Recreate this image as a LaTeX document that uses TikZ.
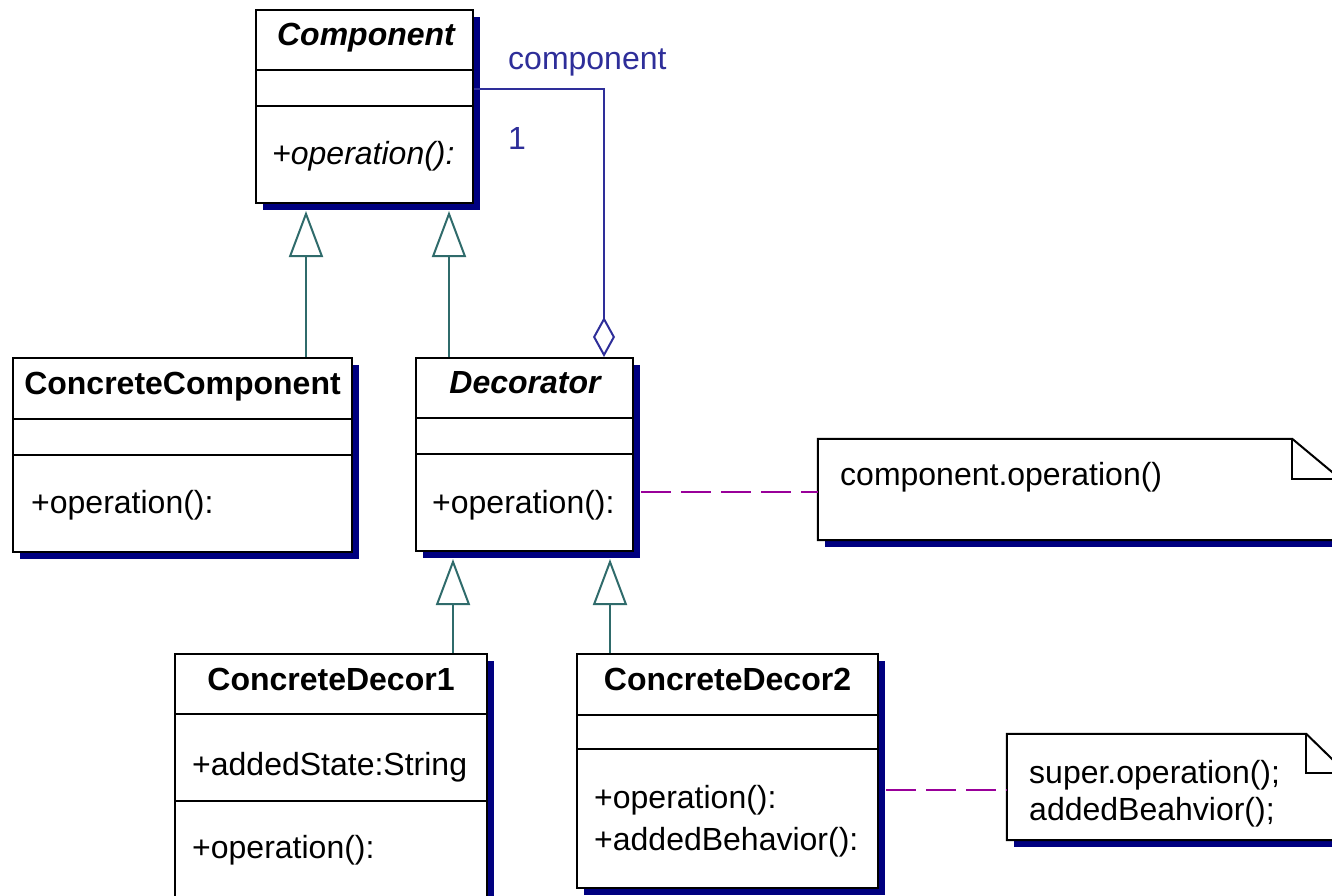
\documentclass[tikz,border=0pt]{standalone}
\usepackage{fontspec}
\setmainfont{Liberation Sans}
\usetikzlibrary{arrows.meta,shadows,calc}
\definecolor{shadowblue}{HTML}{000080}
\definecolor{assoc}{HTML}{2E2E99}
\definecolor{genline}{HTML}{2F6B6B}
\definecolor{linkpurple}{HTML}{990099}
\begin{document}
\begin{tikzpicture}[x=1pt,y=-1pt,
  every node/.style={font=\fontsize{32}{38}\selectfont},
  classbox/.style={draw=black,line width=2pt,fill=white,inner sep=0pt,rectangle,
    drop shadow={shadow xshift=7pt,shadow yshift=-7pt,fill=shadowblue,opacity=1}},
  notebox/.style={draw=none,fill=white,inner sep=0pt,rectangle,
    drop shadow={shadow xshift=7pt,shadow yshift=-7pt,fill=shadowblue,opacity=1}},
  divider/.style={line width=2pt},
  outline/.style={line width=2pt,line join=miter},
  txt/.style={inner sep=0pt,anchor=base west},
  cname/.style={inner sep=0pt,anchor=base,font=\fontsize{32}{38}\selectfont\bfseries},
  gen/.style={genline,line width=2pt,-{Triangle[open,length=46pt,width=34pt]},shorten >=7pt},
  agg/.style={assoc,line width=2pt,{Diamond[open,length=40pt,width=22pt]}-},
  notelink/.style={linkpurple,line width=2pt,dash pattern=on 30pt off 10pt,shorten <=7pt},
]
\useasboundingbox (0,0) rectangle (1332,896);
\clip (0,0) rectangle (1332,896);

% ---------- Component ----------
\node[classbox,minimum width=217pt,minimum height=193pt] (comp) at (364.5,106.5) {};
\draw[divider] ($(comp.north west)+(0,61)$) -- ($(comp.north east)+(0,61)$);
\draw[divider] ($(comp.north west)+(0,97)$) -- ($(comp.north east)+(0,97)$);
\node[cname,font=\fontsize{32}{38}\selectfont\bfseries\itshape] (compname) at (366,46) {Component};
\node[txt,font=\fontsize{32}{38}\selectfont\itshape] (compop) at (272,165) {+operation():};

% ---------- ConcreteComponent ----------
\node[classbox,minimum width=339pt,minimum height=194pt] (ccomp) at (182.5,455) {};
\draw[divider] ($(ccomp.north west)+(0,62)$) -- ($(ccomp.north east)+(0,62)$);
\draw[divider] ($(ccomp.north west)+(0,98)$) -- ($(ccomp.north east)+(0,98)$);
\node[cname] (ccompname) at (182.5,394) {ConcreteComponent};
\node[txt] (ccompop) at (31,513) {+operation():};

% ---------- Decorator ----------
\node[classbox,minimum width=217pt,minimum height=193pt] (dec) at (524.5,454.5) {};
\draw[divider] ($(dec.north west)+(0,61)$) -- ($(dec.north east)+(0,61)$);
\draw[divider] ($(dec.north west)+(0,97)$) -- ($(dec.north east)+(0,97)$);
\node[cname,font=\fontsize{32}{38}\selectfont\bfseries\itshape] (decname) at (525,393) {Decorator};
\node[txt] (decop) at (432,513) {+operation():};

% ---------- ConcreteDecor1 ----------
\node[classbox,minimum width=312pt,minimum height=260pt] (cd1) at (331,784) {};
\draw[divider] ($(cd1.north west)+(0,61)$) -- ($(cd1.north east)+(0,61)$);
\draw[divider] ($(cd1.north west)+(0,148)$) -- ($(cd1.north east)+(0,148)$);
\node[cname] (cd1name) at (331,690) {ConcreteDecor1};
\node[txt] (cd1attr) at (192,775) {+addedState:String};
\node[txt] (cd1op) at (192,858) {+operation():};

% ---------- ConcreteDecor2 ----------
\node[classbox,minimum width=301pt,minimum height=234pt] (cd2) at (727.5,771) {};
\draw[divider] ($(cd2.north west)+(0,62)$) -- ($(cd2.north east)+(0,62)$);
\draw[divider] ($(cd2.north west)+(0,96)$) -- ($(cd2.north east)+(0,96)$);
\node[cname] (cd2name) at (727.5,690) {ConcreteDecor2};
\node[txt] (cd2op) at (594,808) {+operation():};
\node[txt] (cd2beh) at (594,850) {+addedBehavior():};

% ---------- Notes ----------
\node[notebox,minimum width=522pt,minimum height=101pt] (n1) at (1079,489.5) {};
\draw[outline,fill=white] (n1.south west) -- (n1.north west) -- ($(n1.north east)+(-48,0)$)
  -- ($(n1.north east)+(0,40)$) -- (n1.south east) -- cycle;
\draw[outline] ($(n1.north east)+(-48,0)$) |- ($(n1.north east)+(0,40)$);
\node[txt] (n1text) at (840,485) {component.operation()};

\node[notebox,minimum width=339pt,minimum height=106pt] (n2) at (1176.5,787) {};
\draw[outline,fill=white] (n2.south west) -- (n2.north west) -- ($(n2.north east)+(-40,0)$)
  -- ($(n2.north east)+(0,39)$) -- (n2.south east) -- cycle;
\draw[outline] ($(n2.north east)+(-40,0)$) |- ($(n2.north east)+(0,39)$);
\node[txt] (n2text1) at (1029,783) {super.operation();};
\node[txt] (n2text2) at (1029,820) {addedBeahvior();};

% ---------- Generalizations ----------
\coordinate (g1) at (306,0);
\coordinate (g2) at (449,0);
\coordinate (g3) at (453,0);
\coordinate (g4) at (610,0);
\draw[gen] (ccomp.north -| g1) -- (comp.south -| g1);
\draw[gen] (dec.north -| g2) -- (comp.south -| g2);
\draw[gen] (cd1.north -| g3) -- (dec.south -| g3);
\draw[gen] (cd2.north -| g4) -- (dec.south -| g4);

% ---------- Aggregation ----------
\coordinate (a1) at (604,89);
\draw[agg] (dec.north -| a1) -- (a1) -- (comp.east |- a1);
\node[txt,text=assoc] (rolelabel) at (508,70) {component};
\node[txt,text=assoc] (multlabel) at (508,150) {1};

% ---------- Note links ----------
\coordinate (l1) at (0,492);
\coordinate (l2) at (0,790);
\draw[notelink] (dec.east |- l1) -- (n1.west |- l1);
\draw[notelink] (cd2.east |- l2) -- (n2.west |- l2);
\end{tikzpicture}
\end{document}
